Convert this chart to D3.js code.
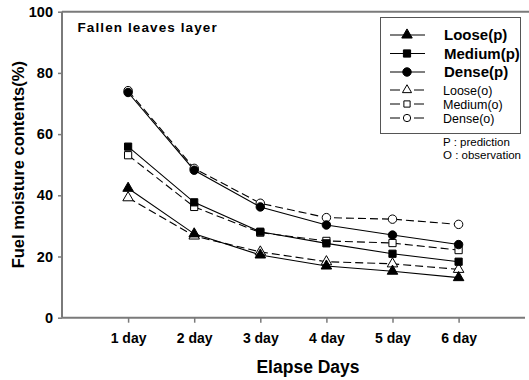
<!DOCTYPE html>
<html>
<head>
<meta charset="utf-8">
<script src="https://cdn.jsdelivr.net/npm/d3@7"></script>
<style>
  html, body { margin: 0; padding: 0; background: #fff; }
  svg { display: block; font-family: "Liberation Sans", Arial, sans-serif; }
</style>
</head>
<body>
<div id="chart"></div>
<script>
(function() {
  'use strict';

  // data
  const days = [1, 2, 3, 4, 5, 6];
  const dayLabels = ['1 day', '2 day', '3 day', '4 day', '5 day', '6 day'];
  const yTicks = [0, 20, 40, 60, 80, 100];

  const loosePred = [42.3, 27.4, 20.5, 16.9, 15.2, 13.1];
  const mediumPred = [55.9, 37.7, 28.1, 24.3, 20.9, 18.3];
  const densePred = [73.6, 48.2, 36.2, 30.3, 27.0, 23.9];
  const looseObs = [39.2, 26.7, 21.5, 18.3, 17.6, 15.8];
  const mediumObs = [53.1, 36.2, 27.8, 25.1, 24.4, 22.1];
  const denseObs = [74.2, 48.8, 37.4, 32.7, 32.2, 30.5];

  const series = [
    { name: 'Loose(p)', values: loosePred, shape: 'triangle', filled: true },
    { name: 'Medium(p)', values: mediumPred, shape: 'square', filled: true },
    { name: 'Dense(p)', values: densePred, shape: 'circle', filled: true },
    { name: 'Loose(o)', values: looseObs, shape: 'triangle', filled: false },
    { name: 'Medium(o)', values: mediumObs, shape: 'square', filled: false },
    { name: 'Dense(o)', values: denseObs, shape: 'circle', filled: false }
  ];

  const width = 529;
  const height = 380;
  const axisColor = '#7a7a7a';

  const svg = d3.select('#chart')
    .append('svg')
    .attr('width', width)
    .attr('height', height);

  const x = d3.scaleLinear().domain([0, 7]).range([62, 524.7]);
  const y = d3.scaleLinear().domain([0, 100]).range([317.7, 11.7]);

  const symbolType = {
    triangle: d3.symbolTriangle,
    square: d3.symbolSquare,
    circle: d3.symbolCircle
  };
  const symbolSize = { triangle: 48, square: 52, circle: 56 };

  // frame top line
  svg.append('line')
    .attr('x1', x(0)).attr('x2', width)
    .attr('y1', y(100)).attr('y2', y(100))
    .attr('stroke', axisColor).attr('stroke-width', 2);

  // y axis
  const yAxis = svg.append('g')
    .attr('transform', `translate(${x(0)},0)`)
    .call(d3.axisLeft(y).tickValues(yTicks).tickSize(4).tickPadding(5));
  yAxis.select('.domain').attr('stroke', axisColor).attr('stroke-width', 2)
    .attr('d', `M0,${y(0)}V${y(100)}`);
  yAxis.selectAll('.tick line').attr('stroke', axisColor).attr('stroke-width', 1.5);
  yAxis.selectAll('.tick text')
    .attr('fill', '#000')
    .style('font-size', '14.5px')
    .style('font-weight', 'bold')
    .style('font-family', '"Liberation Sans", Arial, sans-serif');

  // x axis
  const xAxis = svg.append('g')
    .attr('transform', `translate(0,${y(0)})`)
    .call(d3.axisBottom(x).tickValues(days).tickFormat((d, i) => dayLabels[i]).tickSize(5).tickPadding(10));
  xAxis.select('.domain').attr('stroke', axisColor).attr('stroke-width', 2)
    .attr('d', `M${x(0)},0H${width - 4}`);
  xAxis.selectAll('.tick line').attr('stroke', axisColor).attr('stroke-width', 1.5);
  xAxis.selectAll('.tick text')
    .attr('fill', '#000')
    .style('font-size', '14px')
    .style('font-weight', 'bold')
    .style('font-family', '"Liberation Sans", Arial, sans-serif');

  // axis titles
  svg.append('text')
    .attr('x', 308).attr('y', 373)
    .attr('text-anchor', 'middle')
    .style('font-size', '17.5px').style('font-weight', 'bold')
    .text('Elapse Days');

  svg.append('text')
    .attr('transform', `translate(23.5,${(y(0) + y(100)) / 2}) rotate(-90)`)
    .attr('text-anchor', 'middle')
    .style('font-size', '16.5px').style('font-weight', 'bold')
    .text('Fuel moisture contents(%)');

  svg.append('text')
    .attr('x', 77.5).attr('y', 32)
    .style('font-size', '13.5px').style('font-weight', 'bold')
    .style('letter-spacing', '1.1px')
    .text('Fallen leaves layer');

  // lines
  const line = d3.line()
    .x((d, i) => x(days[i]))
    .y(d => y(d));

  svg.append('g').selectAll('path')
    .data(series)
    .enter()
    .append('path')
    .attr('d', d => line(d.values))
    .attr('fill', 'none')
    .attr('stroke', '#000')
    .attr('stroke-width', 1.1)
    .attr('stroke-dasharray', d => d.filled ? null : '8,4');

  // markers (observations first, predictions on top)
  const order = series.slice().sort((a, b) => a.filled - b.filled);
  order.forEach(s => {
    svg.append('g').selectAll('path')
      .data(s.values)
      .enter()
      .append('path')
      .attr('transform', (d, i) => `translate(${x(days[i])},${y(d)})`)
      .attr('d', d3.symbol().type(symbolType[s.shape]).size(symbolSize[s.shape]))
      .attr('fill', s.filled ? '#000' : '#fff')
      .attr('stroke', '#000')
      .attr('stroke-width', 1);
  });

  // legend
  const legend = svg.append('g');
  legend.append('rect')
    .attr('x', 380.5).attr('y', 17.5)
    .attr('width', 140).attr('height', 116)
    .attr('fill', '#fff')
    .attr('stroke', '#555').attr('stroke-width', 1);

  const legendY = [35, 53.5, 72, 90, 104, 118];
  series.forEach((s, i) => {
    const row = legend.append('g').attr('transform', `translate(0,${legendY[i]})`);
    if (s.filled) {
      row.append('line')
        .attr('x1', 390).attr('x2', 425).attr('y1', 0).attr('y2', 0)
        .attr('stroke', '#000').attr('stroke-width', 1.2);
    } else {
      row.append('line').attr('x1', 390).attr('x2', 400).attr('y1', 0).attr('y2', 0)
        .attr('stroke', '#000').attr('stroke-width', 1);
      row.append('line').attr('x1', 414).attr('x2', 424).attr('y1', 0).attr('y2', 0)
        .attr('stroke', '#000').attr('stroke-width', 1);
    }
    row.append('path')
      .attr('transform', 'translate(407,0)')
      .attr('d', d3.symbol().type(symbolType[s.shape]).size(s.filled ? symbolSize[s.shape] : symbolSize[s.shape] * 0.75))
      .attr('fill', s.filled ? '#000' : '#fff')
      .attr('stroke', '#000').attr('stroke-width', 1);
    row.append('text')
      .attr('x', s.filled ? 444 : 443)
      .attr('y', 0)
      .attr('dy', '0.36em')
      .style('font-size', s.filled ? '15px' : '12.5px')
      .style('font-weight', s.filled ? 'bold' : 'normal')
      .text(s.name);
  });

  svg.append('text')
    .attr('x', 443).attr('y', 146)
    .style('font-size', '11.5px')
    .text('P : prediction');
  svg.append('text')
    .attr('x', 443).attr('y', 158.5)
    .style('font-size', '11.5px')
    .text('O : observation');
})();
</script>
</body>
</html>
